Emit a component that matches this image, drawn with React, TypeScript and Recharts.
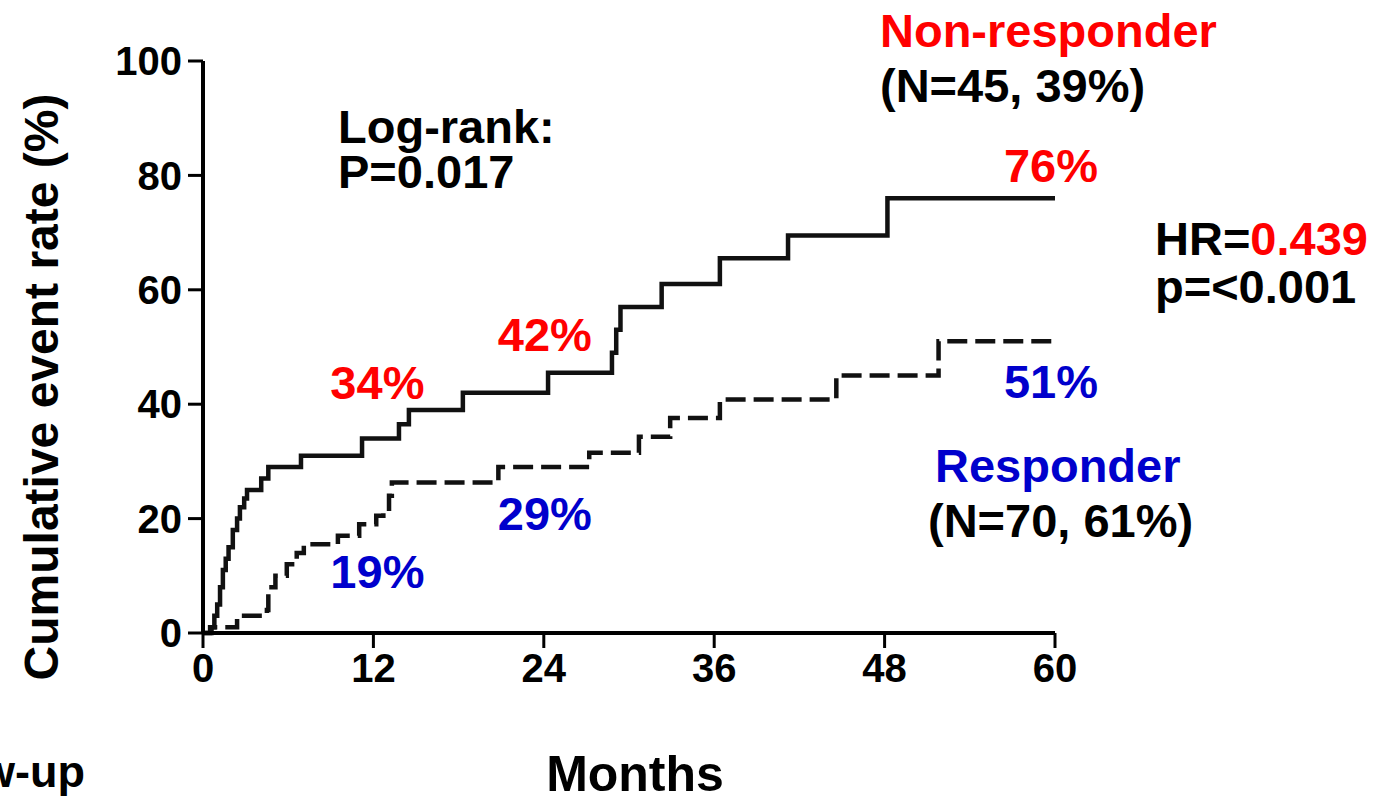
import React from 'react';
import {
  LineChart,
  Line,
  XAxis,
  YAxis,
  ReferenceDot,
  Customized,
} from 'recharts';

/* ------------------------------------------------------------------ */
/*  Kaplan-Meier step data (months, cumulative event rate %)           */
/* ------------------------------------------------------------------ */

const nonResponderMonths = [
  0, 0.5, 0.8, 1.0, 1.2, 1.4, 1.6, 1.8, 2.1, 2.4, 2.6, 2.9, 3.1, 4.1, 4.6, 6.9,
  11.2, 13.8, 14.5, 18.3, 24.3, 28.8, 29.1, 29.4, 32.3, 36.4, 41.2, 48.2, 60,
];
const nonResponderRates = [
  0, 1, 3, 5, 8, 11, 13, 15, 18, 20, 22, 23.5, 25, 27, 29, 31, 34, 36.5, 39,
  42, 45.5, 49, 53, 57, 61, 65.5, 69.5, 76, 76,
];

const responderMonths = [
  0, 0.6, 2.4, 4.5, 4.6, 5.1, 5.9, 6.6, 7.1, 9.5, 11.0, 12.2, 12.7, 13.1, 13.3,
  20.8, 27.2, 30.7, 32.9, 36.4, 44.6, 51.8, 60,
];
const responderRates = [
  0, 1, 3, 4, 8, 10, 12, 14, 15.5, 17, 19, 20.5, 21, 24, 26.3, 29, 31.5, 34.3,
  37.6, 40.8, 45, 51, 51,
];

const monthTicks = [0, 12, 24, 36, 48, 60];
const rateTicks = [0, 20, 40, 60, 80, 100];

// landmark rates printed on the curves
const nonResponderMarks = [
  { month: 12, rate: 34, dx: 4, dy: -40 },
  { month: 24, rate: 42, dx: 1, dy: -42 },
  { month: 60, rate: 76, dx: -4, dy: -16 },
];
const responderMarks = [
  { month: 12, rate: 19, dx: 4, dy: 64 },
  { month: 24, rate: 29, dx: 1, dy: 63 },
  { month: 60, rate: 51, dx: -4, dy: 57 },
];

const toSeries = (months: number[], rates: number[]) =>
  months.map((m, i) => ({ month: m, rate: rates[i] }));

const nonResponderData = toSeries(nonResponderMonths, nonResponderRates);
const responderData = toSeries(responderMonths, responderRates);

/* ------------------------------------------------------------------ */
/*  Styles                                                             */
/* ------------------------------------------------------------------ */

const FONT = '"Liberation Sans", Arial, sans-serif';
const RED = '#ff0000';
const BLUE = '#0000cc';
const INK = '#000';

const TICK_STYLE = {
  fill: INK,
  fontSize: 40,
  fontWeight: 'bold' as const,
  fontFamily: FONT,
};

const textProps = {
  fontFamily: FONT,
  fontWeight: 'bold' as const,
  fontSize: 47,
};

function markShape(label: string, color: string, dx: number, dy: number) {
  return (props: { cx?: number; cy?: number }) => (
    <text
      x={(props.cx ?? 0) + dx}
      y={(props.cy ?? 0) + dy}
      textAnchor="middle"
      fill={color}
      {...textProps}
    >
      {label}
    </text>
  );
}

function Annotations() {
  return (
    <g>
      <text x={338} y={143} fill={INK} {...textProps}>
        Log-rank:
      </text>
      <text x={338} y={188} fill={INK} {...textProps}>
        P=0.017
      </text>

      <text x={880} y={47} fill={RED} {...textProps}>
        Non-responder
      </text>
      <text x={880} y={102} fill={INK} {...textProps}>
        (N=45, 39%)
      </text>

      <text x={1155} y={255} fill={INK} {...textProps}>
        HR=<tspan fill={RED}>0.439</tspan>
      </text>
      <text x={1155} y={303} fill={INK} {...textProps}>
        p=&lt;0.001
      </text>

      <text x={935} y={482} fill={BLUE} {...textProps}>
        Responder
      </text>
      <text x={928} y={537} fill={INK} {...textProps}>
        (N=70, 61%)
      </text>

      <text
        x={58}
        y={387}
        transform="rotate(-90 58 387)"
        textAnchor="middle"
        fill={INK}
        {...textProps}
        fontSize={48}
      >
        Cumulative event rate (%)
      </text>
      <text x={635} y={791} textAnchor="middle" fill={INK} {...textProps} fontSize={50}>
        Months
      </text>
      <text x={85} y={787} textAnchor="end" fill={INK} {...textProps} fontSize={45}>
        Follow-up
      </text>
    </g>
  );
}

export default function App() {
  return (
    <div
      style={{
        position: 'absolute',
        left: 0,
        top: 0,
        width: 1373,
        height: 800,
        overflow: 'hidden',
        background: '#fff',
      }}
    >
      <LineChart
        width={1373}
        height={800}
        margin={{ top: 61, right: 318, bottom: 0, left: 0 }}
      >
        <XAxis
          type="number"
          dataKey="month"
          domain={[0, 60]}
          ticks={monthTicks}
          height={167}
          tick={TICK_STYLE}
          tickSize={15}
          tickMargin={6}
          axisLine={{ stroke: INK, strokeWidth: 4 }}
          tickLine={{ stroke: INK, strokeWidth: 3 }}
        />
        <YAxis
          type="number"
          dataKey="rate"
          domain={[0, 100]}
          ticks={rateTicks}
          width={203}
          tick={TICK_STYLE}
          tickSize={15}
          tickMargin={6}
          axisLine={{ stroke: INK, strokeWidth: 4 }}
          tickLine={{ stroke: INK, strokeWidth: 3 }}
        />
        <Line
          data={nonResponderData}
          dataKey="rate"
          type="stepAfter"
          stroke="#111"
          strokeWidth={4.5}
          dot={false}
          isAnimationActive={false}
        />
        <Line
          data={responderData}
          dataKey="rate"
          type="stepAfter"
          stroke="#111"
          strokeWidth={4.5}
          strokeDasharray="20 8"
          dot={false}
          isAnimationActive={false}
        />
        {nonResponderMarks.map((m) => (
          <ReferenceDot
            key={`nr-${m.month}`}
            x={m.month}
            y={m.rate}
            r={0}
            shape={markShape(`${m.rate}%`, RED, m.dx, m.dy)}
          />
        ))}
        {responderMarks.map((m) => (
          <ReferenceDot
            key={`r-${m.month}`}
            x={m.month}
            y={m.rate}
            r={0}
            shape={markShape(`${m.rate}%`, BLUE, m.dx, m.dy)}
          />
        ))}
        <Customized component={<Annotations />} />
      </LineChart>
    </div>
  );
}
